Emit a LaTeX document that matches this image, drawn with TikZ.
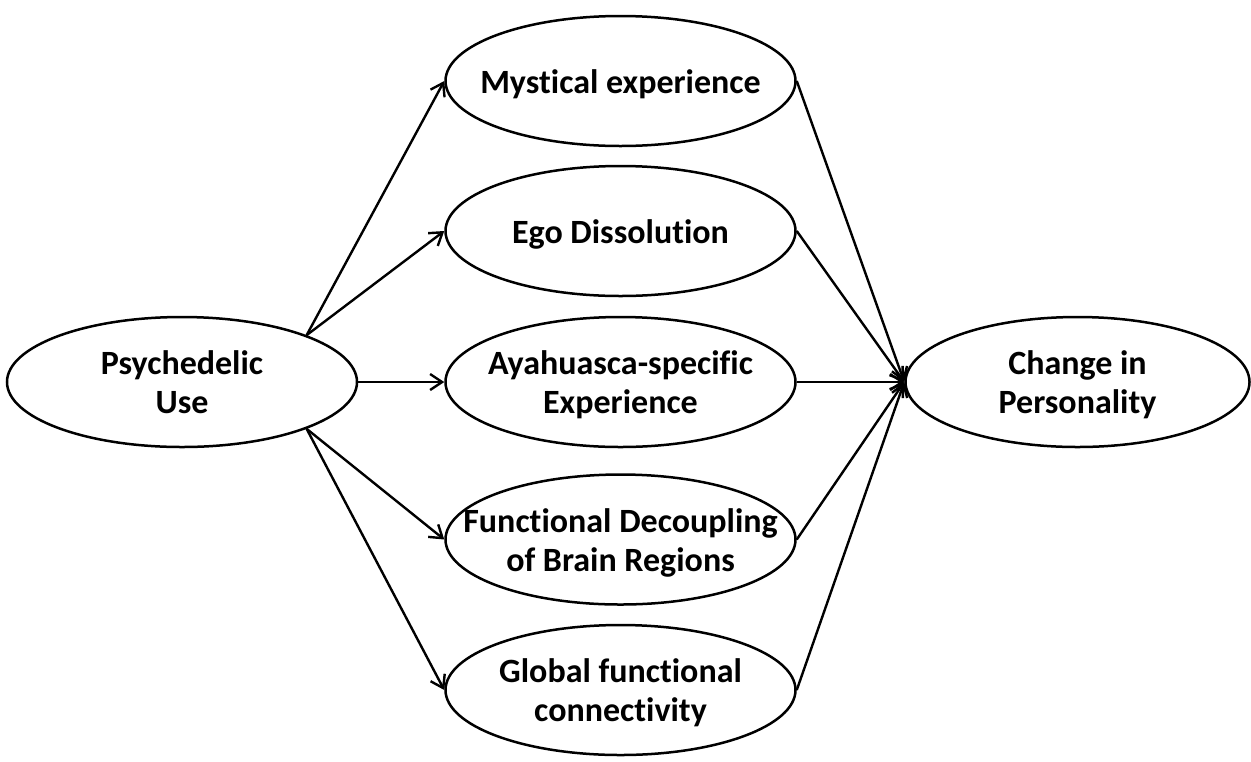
\documentclass[tikz,border=0pt]{standalone}
\usepackage{fontspec}
\setmainfont{Carlito}[Ligatures=NoCommon]
\usepackage{tikz}
\usetikzlibrary{positioning,shapes,arrows.meta}
\newcommand{\lbltxt}[1]{\hbox to 0pt{\hss\raisebox{-6.5pt}[0pt][0pt]{\begin{tabular}{@{}c@{}}#1\end{tabular}}\hss}}
\tikzstyle{st}=[%
      ellipse, draw=black, line width=1.25pt, fill=white,
      minimum width=175pt, minimum height=65pt, inner sep=0pt,
      font=\fontsize{17}{19.5}\selectfont\bfseries
]
\begin{document}
\begin{tikzpicture}[x=0.5pt, y=-0.5pt,
    line width=1.2pt,
    -{Straight Barb[length=6pt,width=8pt]}
  ]
    \useasboundingbox (0,0) rectangle (1251,761);
    \node[st] (use)                                    at (182,382) {\lbltxt{Psychedelic\\Use}};
    \node[st] (aya)    [right = 43pt of use]           {\lbltxt{Ayahuasca-specific\\Experience}};
    \node[st] (ego)    [above = 9.25pt of aya]         {\lbltxt{Ego Dissolution}};
    \node[st] (myst)   [above = 8.75pt of ego]         {\lbltxt{Mystical experience}};
    \node[st] (decoup) [below = 12.5pt of aya]         {\lbltxt{Functional Decoupling\\of Brain Regions}};
    \node[st] (glob)   [below = 9pt of decoup]         {\lbltxt{Global functional\\connectivity}};
    \node[st, minimum width=172pt] (change) [right = 53.75pt of aya] {\lbltxt{Change in\\Personality}};

    \path (use.north east) edge (myst.west)
          (use.north east) edge (ego.west)
          (use)            edge (aya)
          (use.south east) edge (decoup.west)
          (use.south east) edge (glob.west)
          (myst.east)      edge (change.west)
          (ego.east)       edge (change.west)
          (aya)            edge (change)
          (decoup.east)    edge (change.west)
          (glob.east)      edge (change.west)
    ;
\end{tikzpicture}
\end{document}
